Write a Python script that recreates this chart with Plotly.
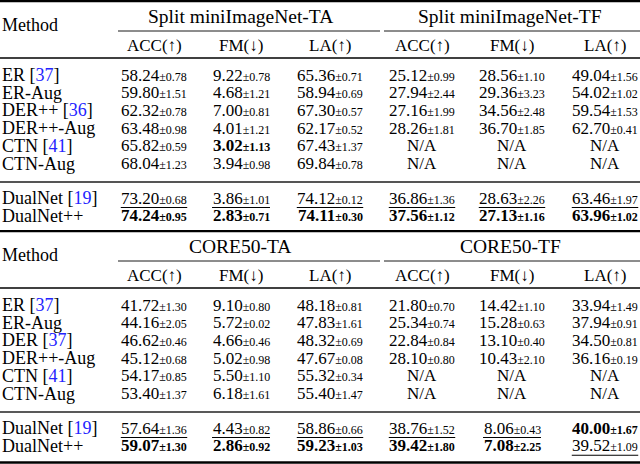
import plotly.graph_objects as go

# ---------------- data ----------------
methods_1 = ["ER", "ER-Aug", "DER++", "DER++-Aug", "CTN", "CTN-Aug", "DualNet", "DualNet++"]
cites_1 = ["37", None, "36", None, "41", None, "19", None]
methods_2 = ["ER", "ER-Aug", "DER", "DER++-Aug", "CTN", "CTN-Aug", "DualNet", "DualNet++"]
cites_2 = ["37", None, "37", None, "41", None, "19", None]

group_headers_1 = ["Split miniImageNet-TA", "Split miniImageNet-TF"]
group_headers_2 = ["CORE50-TA", "CORE50-TF"]
metric_headers = ["ACC(↑)", "FM(↓)", "LA(↑)", "ACC(↑)", "FM(↓)", "LA(↑)"]

# Split miniImageNet (mean, std) per column; None = N/A
t1_acc_ta = [58.24, 59.80, 62.32, 63.48, 65.82, 68.04, 73.20, 74.24]
t1_acc_ta_sd = [0.78, 1.51, 0.78, 0.98, 0.59, 1.23, 0.68, 0.95]
t1_fm_ta = [9.22, 4.68, 7.00, 4.01, 3.02, 3.94, 3.86, 2.83]
t1_fm_ta_sd = [0.78, 1.21, 0.81, 1.21, 1.13, 0.98, 1.01, 0.71]
t1_la_ta = [65.36, 58.94, 67.30, 62.17, 67.43, 69.84, 74.12, 74.11]
t1_la_ta_sd = [0.71, 0.69, 0.57, 0.52, 1.37, 0.78, 0.12, 0.30]
t1_acc_tf = [25.12, 27.94, 27.16, 28.26, None, None, 36.86, 37.56]
t1_acc_tf_sd = [0.99, 2.44, 1.99, 1.81, None, None, 1.36, 1.12]
t1_fm_tf = [28.56, 29.36, 34.56, 36.70, None, None, 28.63, 27.13]
t1_fm_tf_sd = [1.10, 3.23, 2.48, 1.85, None, None, 2.26, 1.16]
t1_la_tf = [49.04, 54.02, 59.54, 62.70, None, None, 63.46, 63.96]
t1_la_tf_sd = [1.56, 1.02, 1.53, 0.41, None, None, 1.97, 1.02]

# CORE50
t2_acc_ta = [41.72, 44.16, 46.62, 45.12, 54.17, 53.40, 57.64, 59.07]
t2_acc_ta_sd = [1.30, 2.05, 0.46, 0.68, 0.85, 1.37, 1.36, 1.30]
t2_fm_ta = [9.10, 5.72, 4.66, 5.02, 5.50, 6.18, 4.43, 2.86]
t2_fm_ta_sd = [0.80, 0.02, 0.46, 0.98, 1.10, 1.61, 0.82, 0.92]
t2_la_ta = [48.18, 47.83, 48.32, 47.67, 55.32, 55.40, 58.86, 59.23]
t2_la_ta_sd = [0.81, 1.61, 0.69, 0.08, 0.34, 1.47, 0.66, 1.03]
t2_acc_tf = [21.80, 25.34, 22.84, 28.10, None, None, 38.76, 39.42]
t2_acc_tf_sd = [0.70, 0.74, 0.84, 0.80, None, None, 1.52, 1.80]
t2_fm_tf = [14.42, 15.28, 13.10, 10.43, None, None, 8.06, 7.08]
t2_fm_tf_sd = [1.10, 0.63, 0.40, 2.10, None, None, 0.43, 2.25]
t2_la_tf = [33.94, 37.94, 34.50, 36.16, None, None, 40.00, 39.52]
t2_la_tf_sd = [1.49, 0.91, 0.81, 0.19, None, None, 1.67, 1.09]

# emphasis (row, col): bold / underline
t1_bold = [(4, 1), (7, 0), (7, 1), (7, 2), (7, 3), (7, 4), (7, 5)]
t1_under = [(6, 0), (6, 1), (6, 2), (6, 3), (6, 4), (6, 5)]
t2_bold = [(7, 0), (7, 1), (7, 2), (7, 3), (7, 4), (6, 5)]
t2_under = [(6, 0), (6, 1), (6, 2), (6, 3), (6, 4), (7, 5)]

tables = [
    dict(methods=methods_1, cites=cites_1, groups=group_headers_1,
         means=[t1_acc_ta, t1_fm_ta, t1_la_ta, t1_acc_tf, t1_fm_tf, t1_la_tf],
         sds=[t1_acc_ta_sd, t1_fm_ta_sd, t1_la_ta_sd, t1_acc_tf_sd, t1_fm_tf_sd, t1_la_tf_sd],
         bold=t1_bold, under=t1_under, midrule=("#555555", 1.9)),
    dict(methods=methods_2, cites=cites_2, groups=group_headers_2,
         means=[t2_acc_ta, t2_fm_ta, t2_la_ta, t2_acc_tf, t2_fm_tf, t2_la_tf],
         sds=[t2_acc_ta_sd, t2_fm_ta_sd, t2_la_ta_sd, t2_acc_tf_sd, t2_fm_tf_sd, t2_la_tf_sd],
         bold=t2_bold, under=t2_under, midrule=("#222222", 1.3)),
]

# ---------------- layout / style ----------------
FONT = "Liberation Serif"
FS = 17
FS_SD = 12
FS_LABEL = 18
FS_GROUP = 19.5
W, H = 640, 464
col_x = [154, 241, 330, 422, 512, 605]
group_x = [240, 510]
group_rule = [(118, 380), (384, 640)]
table_off = [0, 230]
BLUE = "#2323ff"


def text_w(main, sd):
    w = 0
    for ch in main:
        w += 0.25 * FS if ch == "." else 0.5 * FS
    w += 0.6 * FS_SD
    for ch in sd:
        w += 0.25 * FS_SD if ch == "." else 0.5 * FS_SD
    return w


fig = go.Figure()
fig.add_trace(go.Scatter(x=[0, W], y=[0, H], mode="markers", marker=dict(opacity=0),
                         hoverinfo="skip", showlegend=False))

ann = []
shapes = []


def hline(x0, x1, y, w, color="black"):
    shapes.append(dict(type="line", xref="x", yref="y", x0=x0, x1=x1, y0=y, y1=y,
                       line=dict(color=color, width=w)))


def txt(x, y, s, anchor="center", size=FS):
    ann.append(dict(x=x, y=y, xref="x", yref="y", text=s, showarrow=False,
                    xanchor=anchor, yanchor="middle",
                    font=dict(family=FONT, size=size, color="black")))


row_dy = 17.7
for t, off in zip(tables, table_off):
    # rules
    hline(0, W, off + 1.2, 2.2)
    for (a, b) in group_rule:
        hline(a, b, off + 31, 0.9)
    hline(0, W, off + 58, 1.6)
    hline(0, W, off + 182, t["midrule"][1], t["midrule"][0])
    # headers
    txt(0, off + 25, "Method", "left", FS_LABEL)
    for gx, g in zip(group_x, t["groups"]):
        txt(gx, off + 16, g, size=FS_GROUP)
    for cx, m in zip(col_x, metric_headers):
        txt(cx, off + 45, m)
    # rows
    for i, name in enumerate(t["methods"]):
        y = off + 75 + i * row_dy if i < 6 else off + 198 + (i - 6) * row_dy
        label = name
        if t["cites"][i]:
            label += " [<span style='color:%s'>%s</span>]" % (BLUE, t["cites"][i])
        txt(0, y, label, "left", FS_LABEL)
        for j, cx in enumerate(col_x):
            m = t["means"][j][i]
            if m is None:
                txt(cx, y, "N/A")
                continue
            sd = t["sds"][j][i]
            ms = "%.2f" % m
            ss = "%.2f" % sd
            s = "%s<span style='font-size:%dpx'>±%s</span>" % (ms, FS_SD, ss)
            if (i, j) in t["bold"]:
                s = "<b>%s</b>" % s
            txt(cx, y, s)
            if (i, j) in t["under"]:
                w = text_w(ms, ss)
                hline(cx - w / 2, cx + w / 2, y + 9.5, 1.1)
hline(0, W, 462.5, 2.4)

fig.update_layout(
    width=W, height=H, margin=dict(l=0, r=0, t=0, b=0),
    paper_bgcolor="white", plot_bgcolor="white",
    xaxis=dict(range=[0, W], visible=False, fixedrange=True),
    yaxis=dict(range=[H, 0], visible=False, fixedrange=True),
    annotations=ann, shapes=shapes, showlegend=False,
)
fig.write_html("out.html", config={"displayModeBar": False},
               post_script="document.body.style.margin='0';document.body.style.overflow='hidden';")
